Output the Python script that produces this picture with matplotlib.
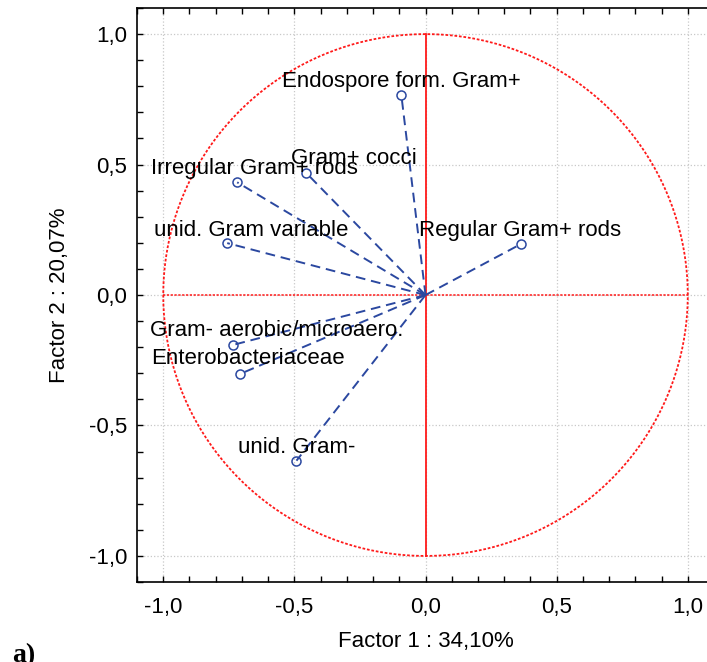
import numpy as np
import matplotlib
matplotlib.use("Agg")
import matplotlib.pyplot as plt
from matplotlib.ticker import MultipleLocator, FuncFormatter

# ---- data ----
labels = ["Endospore form. Gram+", "Gram+ cocci", "Irregular Gram+ rods",
          "unid. Gram variable", "Regular Gram+ rods", "Gram- aerobic/microaero.",
          "Enterobacteriaceae", "unid. Gram-"]
factor1 = [-0.092, -0.454, -0.718, -0.756, 0.363, -0.733, -0.706, -0.492]
factor2 = [0.765, 0.467, 0.432, 0.199, 0.195, -0.191, -0.302, -0.635]
# label offsets (points) relative to the point
label_offsets = [(-86, 6), (-11, 6.5), (-62, 6), (-53, 5), (-73, 6),
                 (-60, 6.5), (-64, 7), (-42, 5.5)]
xlabel = "Factor 1 : 34,10%"
ylabel = "Factor 2 : 20,07%"
ticks = [-1.0, -0.5, 0.0, 0.5, 1.0]

plt.rcParams['font.family'] = ['Liberation Sans', 'DejaVu Sans']
FS = 16

fig = plt.figure(figsize=(7.07, 6.62), dpi=100)
ax = fig.add_axes([0.1938, 0.1208, 0.8161, 0.8671])
ax.set_xlim(-1.1, 1.1)
ax.set_ylim(-1.1, 1.1)

# grid
ax.set_xticks(ticks)
ax.set_yticks(ticks)
ax.xaxis.set_minor_locator(MultipleLocator(0.1))
ax.yaxis.set_minor_locator(MultipleLocator(0.1))
ax.grid(True, which='major', color='#c8c8c8', linestyle=':', linewidth=0.9)
ax.set_axisbelow(True)

fmt = FuncFormatter(lambda v, p: f"{v:.1f}".replace('.', ',').replace('-0,0', '0,0'))
ax.xaxis.set_major_formatter(fmt)
ax.yaxis.set_major_formatter(fmt)

ax.tick_params(which='both', direction='in', top=True, right=False, length=4,
               width=1, labelsize=FS, color='black')
ax.tick_params(axis='x', which='major', pad=11)
ax.tick_params(axis='y', which='major', pad=7)

for s in ax.spines.values():
    s.set_linewidth(1.2)

# unit circle and axes lines
t = np.linspace(0, 2 * np.pi, 400)
ax.plot(np.cos(t), np.sin(t), color='#ff1a1a', linestyle=(0, (1.5, 1)), linewidth=1.3)
ax.plot([-1, 1], [0, 0], color='#ff1a1a', linestyle=(0, (1.5, 1)), linewidth=1.1)
ax.plot([0, 0], [-1, 1], color='#ff1a1a', linestyle='-', linewidth=1.3)

blue = '#2b48a0'
for x, y, lab, off in zip(factor1, factor2, labels, label_offsets):
    ax.plot([0, x], [0, y], color=blue, linestyle=(0, (5, 3)), linewidth=1.4)
    ax.plot([x], [y], marker='o', markersize=6.5, markerfacecolor='none',
            markeredgecolor=blue, markeredgewidth=1.1, linestyle='none')
    ax.annotate(lab, (x, y), xytext=off, textcoords='offset points',
                fontsize=FS, ha='left', va='baseline', color='black')

ax.set_xlabel(xlabel, fontsize=FS, va='center')
ax.set_ylabel(ylabel, fontsize=FS, va='center')
ax.xaxis.set_label_coords(0.5, -0.103)
ax.yaxis.set_label_coords(-0.135, 0.5)

fig.text(0.017, 0.0, "a)", fontsize=20, fontweight='bold',
         family='Liberation Serif', ha='left', va='baseline')

fig.savefig("out.png", dpi=100)
